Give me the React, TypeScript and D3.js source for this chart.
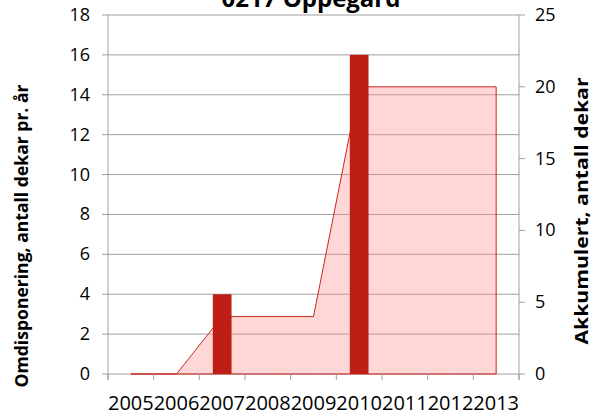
import { useEffect, useRef } from 'react';
import * as d3 from 'd3';

const years = ['2005', '2006', '2007', '2008', '2009', '2010', '2011', '2012', '2013'];
const annual = [0, 0, 4, 0, 0, 16, 0, 0, 0];
const cumulative = [0, 0, 4, 4, 4, 20, 20, 20, 20];
const leftTicks = [0, 2, 4, 6, 8, 10, 12, 14, 16, 18];
const rightTicks = [0, 5, 10, 15, 20, 25];

export default function App() {
  const svgRef = useRef<SVGSVGElement>(null);
  const width = 595;
  const height = 416;

  useEffect(() => {
    if (!svgRef.current) return;
    const svg = d3.select(svgRef.current);
    svg.selectAll('*').remove();

    const left = 108, right = 519, top = 15, bottom = 374;
    const font = "'Open Sans', sans-serif";
    const grid = '#a0a0a0';

    const x = d3.scaleBand<string>().domain(years).range([left, right]);
    const yL = d3.scaleLinear().domain([0, 18]).range([bottom, top]);
    const yR = d3.scaleLinear().domain([0, 25]).range([bottom, top]);
    const cx = (d: string) => (x(d) as number) + x.bandwidth() / 2;

    // gridlines
    svg.append('g')
      .selectAll('line')
      .data(leftTicks)
      .enter()
      .append('line')
      .attr('x1', left - 6)
      .attr('x2', right)
      .attr('y1', d => yL(d))
      .attr('y2', d => yL(d))
      .attr('stroke', grid)
      .attr('stroke-width', 1);

    // cumulative area
    const area = d3.area<number>()
      .x((_, i) => cx(years[i]))
      .y0(yR(0))
      .y1(d => yR(d));

    svg.append('path')
      .datum(cumulative)
      .attr('d', area)
      .attr('fill', 'rgba(255,140,140,0.35)')
      .attr('stroke', '#c8281e')
      .attr('stroke-width', 1);

    // annual bars
    const barW = x.bandwidth() * 0.41;
    svg.append('g')
      .selectAll('rect')
      .data(annual.map((v, i) => ({ v, year: years[i] })).filter(d => d.v > 0))
      .enter()
      .append('rect')
      .attr('x', d => cx(d.year) - barW / 2)
      .attr('width', barW)
      .attr('y', d => yL(d.v))
      .attr('height', d => yL(0) - yL(d.v))
      .attr('fill', '#be1e14');

    // axes lines
    svg.append('line').attr('x1', left).attr('x2', left).attr('y1', top).attr('y2', bottom + 6)
      .attr('stroke', grid);
    svg.append('line').attr('x1', right).attr('x2', right).attr('y1', top).attr('y2', bottom + 6)
      .attr('stroke', grid);

    // right ticks
    svg.append('g')
      .selectAll('line')
      .data(rightTicks)
      .enter()
      .append('line')
      .attr('x1', right)
      .attr('x2', right + 6)
      .attr('y1', d => yR(d))
      .attr('y2', d => yR(d))
      .attr('stroke', grid);

    // x ticks at band edges
    svg.append('g')
      .selectAll('line')
      .data(years.concat(['end']))
      .enter()
      .append('line')
      .attr('x1', (d, i) => (i < years.length ? (x(d) as number) : right))
      .attr('x2', (d, i) => (i < years.length ? (x(d) as number) : right))
      .attr('y1', bottom)
      .attr('y2', bottom + 6)
      .attr('stroke', grid);

    // left tick labels
    svg.append('g')
      .selectAll('text')
      .data(leftTicks)
      .enter()
      .append('text')
      .text(d => d)
      .attr('x', 90)
      .attr('y', d => yL(d) + 6)
      .attr('text-anchor', 'end')
      .style('font-family', font)
      .style('font-size', '18px')
      .attr('fill', '#000');

    // right tick labels
    svg.append('g')
      .selectAll('text')
      .data(rightTicks)
      .enter()
      .append('text')
      .text(d => d)
      .attr('x', 535)
      .attr('y', d => yR(d) + 6)
      .attr('text-anchor', 'start')
      .style('font-family', font)
      .style('font-size', '18px')
      .attr('fill', '#000');

    // x labels
    svg.append('g')
      .selectAll('text')
      .data(years)
      .enter()
      .append('text')
      .text(d => d)
      .attr('x', d => cx(d))
      .attr('y', 410)
      .attr('text-anchor', 'middle')
      .style('font-family', font)
      .style('font-size', '20px')
      .attr('fill', '#000');

    // title
    svg.append('text')
      .text('0217 Oppegård')
      .attr('x', 311)
      .attr('y', 7)
      .attr('text-anchor', 'middle')
      .style('font-family', font)
      .style('font-size', '24px')
      .style('font-weight', 'bold')
      .attr('fill', '#000');

    // axis titles
    svg.append('text')
      .text('Omdisponering, antall dekar pr. år')
      .attr('transform', 'translate(28,236) rotate(-90)')
      .attr('text-anchor', 'middle')
      .attr('textLength', 303)
      .attr('lengthAdjust', 'spacingAndGlyphs')
      .style('font-family', font)
      .style('font-size', '18px')
      .style('font-weight', 'bold')
      .attr('fill', '#000');

    svg.append('text')
      .text('Akkumulert, antall dekar')
      .attr('transform', 'translate(588,211) rotate(-90)')
      .attr('text-anchor', 'middle')
      .attr('textLength', 267)
      .attr('lengthAdjust', 'spacingAndGlyphs')
      .style('font-family', font)
      .style('font-size', '18px')
      .style('font-weight', 'bold')
      .attr('fill', '#000');
  }, []);

  return (
    <svg
      ref={svgRef}
      width={width}
      height={height}
      style={{ position: 'absolute', left: 0, top: 0, background: '#fff' }}
    />
  );
}
